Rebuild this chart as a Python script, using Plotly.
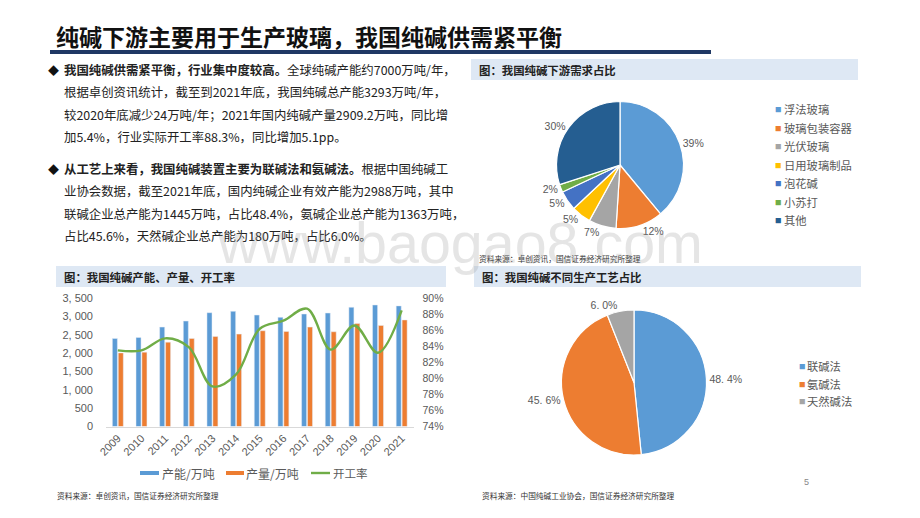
import plotly.graph_objects as go

W, H = 912, 510   # the page body adds an 8 px margin inside the 920x518 window
OFF = 8
years = [str(y) for y in range(2009, 2022)]
capacity = [2404, 2431, 2714, 2879, 3107, 3144, 3043, 2980, 3071, 3098, 3254, 3317, 3293]
output = [2010, 2030, 2303, 2404, 2458, 2522, 2614, 2596, 2714, 2586, 2815, 2760, 2909]
utilization = [83.5, 83.5, 85.0, 83.9, 79.0, 80.5, 86.2, 87.2, 88.7, 83.6, 86.6, 83.2, 88.5]
left_ticks = [0, 500, 1000, 1500, 2000, 2500, 3000, 3500]
left_labels = ["0", "500", "1, 000", "1, 500", "2, 000", "2, 500", "3, 000", "3, 500"]
right_ticks = [74, 76, 78, 80, 82, 84, 86, 88, 90]
right_labels = [f"{v}%" for v in right_ticks]

demand_labels = ["浮法玻璃", "玻璃包装容器", "光伏玻璃", "日用玻璃制品", "泡花碱", "小苏打", "其他"]
demand_values = [39, 12, 7, 5, 5, 2, 30]
demand_colors = ["#5B9BD5", "#ED7D31", "#A5A5A5", "#FFC000", "#4472C4", "#70AD47", "#255E91"]
process_labels = ["联碱法", "氨碱法", "天然碱法"]
process_values = [48.4, 45.6, 6.0]
process_text = ["48. 4%", "45. 6%", "6. 0%"]
process_colors = ["#5B9BD5", "#ED7D31", "#A5A5A5"]

title = "纯碱下游主要用于生产玻璃，我国纯碱供需紧平衡"
para_lines = [
    ("<b>我国纯碱供需紧平衡，行业集中度较高。</b>全球纯碱产能约7000万吨/年，", 70, True),
    ("根据卓创资讯统计，截至到2021年底，我国纯碱总产能3293万吨/年，", 92.5, False),
    ("较2020年底减少24万吨/年；2021年国内纯碱产量2909.2万吨，同比增", 114.5, False),
    ("加5.4%，行业实际开工率88.3%，同比增加5.1pp。", 137, False),
    ("<b>从工艺上来看，我国纯碱装置主要为联碱法和氨碱法。</b>根据中国纯碱工", 169, True),
    ("业协会数据，截至2021年底，国内纯碱企业有效产能为2988万吨，其中", 191, False),
    ("联碱企业总产能为1445万吨，占比48.4%，氨碱企业总产能为1363万吨，", 214, False),
    ("占比45.6%，天然碱企业总产能为180万吨，占比6.0%。", 236, False),
]
panel_titles = [
    ("图：我国纯碱产能、产量、开工率", 56, 446, 266, 287),
    ("图：我国纯碱下游需求占比", 471, 858, 59, 80),
    ("图：我国纯碱不同生产工艺占比", 474, 861, 266, 287),
]
sources = [
    ("资料来源：卓创资讯，国信证券经济研究所整理", 56, 495),
    ("资料来源：卓创资讯，国信证券经济研究所整理", 478, 258),
    ("资料来源：中国纯碱工业协会，国信证券经济研究所整理", 481, 495),
]
bar_legend_labels = ["产能/万吨", "产量/万吨", "开工率"]

CJK = "Noto Sans CJK SC"
GRAY = "#595959"
fx = lambda p: (p - OFF) / W
fy = lambda p: 1 - (p - OFF) / H

fig = go.Figure()
fig.add_bar(x=years, y=capacity, name=bar_legend_labels[0], marker_color="#5B9BD5", xaxis="x", yaxis="y")
fig.add_bar(x=years, y=output, name=bar_legend_labels[1], marker_color="#ED7D31", xaxis="x", yaxis="y")
fig.add_scatter(x=years, y=utilization, name=bar_legend_labels[2], mode="lines", xaxis="x", yaxis="y2",
                line=dict(color="#70AD47", width=2.4, shape="spline", smoothing=1.0))


def pie_domain(cx, cy, r):
    return dict(x=[fx(cx - r), fx(cx + r)], y=[fy(cy + r), fy(cy - r)])


fig.add_pie(labels=demand_labels, values=demand_values, sort=False, direction="clockwise", rotation=0,
            domain=pie_domain(620, 165, 63.5), marker=dict(colors=demand_colors, line=dict(color="white", width=1.2)),
            texttemplate="%{value}%", textposition="outside", automargin=False,
            textfont=dict(family="Liberation Sans", size=10.5, color=GRAY), hoverinfo="label+percent")
fig.add_pie(labels=process_labels, values=process_values, sort=False, direction="clockwise", rotation=0,
            domain=pie_domain(634, 382.5, 72.5), marker=dict(colors=process_colors, line=dict(color="white", width=1.2)),
            text=process_text, textinfo="text", textposition="outside", automargin=False,
            textfont=dict(family="Liberation Sans", size=10.5, color=GRAY), hoverinfo="label+percent")

shapes = [dict(type="rect", xref="paper", yref="paper", x0=fx(50), x1=fx(711), y0=fy(54), y1=fy(50),
               fillcolor="#1F3864", line_width=0, layer="below")]
ann = []


def text(s, x, y, size, color="#222222", family=CJK, xanchor="left"):
    ann.append(dict(text=s, x=fx(x - 1.5 if xanchor == "left" else x), y=fy(y), xref="paper", yref="paper",
                    xanchor=xanchor, yanchor="middle", showarrow=False,
                    font=dict(family=family, size=size, color=color)))


text(f"<b>{title}</b>", 55.5, 36, 23, color="#111111")
for line, y, bullet in para_lines:
    text(line, 63, y, 12.4)
    if bullet:
        text("◆", 47, y, 11, color="#111111")
for s, x0, x1, y0, y1 in panel_titles:
    shapes.append(dict(type="rect", xref="paper", yref="paper", x0=fx(x0), x1=fx(x1), y0=fy(y1), y1=fy(y0),
                       fillcolor="#DEE8F4", line_width=0, layer="below"))
    text(f"<b>{s}</b>", x0 + 7, (y0 + y1) / 2, 11.4)
for s, x, y in sources:
    text(s, x, y, 7.7, color="#333333")
text("5", 803, 482, 9, color="#888888", family="Liberation Sans")
text("www.baogao8.com", 460, 243, 57.4, color="rgba(150,150,150,0.25)", family="Liberation Sans", xanchor="center")

# pie legends
for i, (lab, col) in enumerate(zip(demand_labels, demand_colors)):
    y = 109.5 + i * 18.4
    text("■", 774.5, y, 6.5, color=col)
    text(lab, 783, y, 11.3, color=GRAY)
for i, (lab, col) in enumerate(zip(process_labels, process_colors)):
    y = 366 + i * 17.5
    text("■", 798, y, 6.5, color=col)
    text(lab, 806, y, 11.3, color=GRAY)

# bar chart legend
for x0, x1, lab, col, tx in [(140, 159, bar_legend_labels[0], "#5B9BD5", 161),
                             (226, 244, bar_legend_labels[1], "#ED7D31", 245)]:
    shapes.append(dict(type="rect", xref="paper", yref="paper", x0=fx(x0), x1=fx(x1), y0=fy(475), y1=fy(471),
                       fillcolor=col, line_width=0))
    text(lab, tx, 473, 12, color=GRAY)
shapes.append(dict(type="line", xref="paper", yref="paper", x0=fx(311), x1=fx(330), y0=fy(473), y1=fy(473),
                   line=dict(color="#70AD47", width=2.4)))
text(bar_legend_labels[2], 332, 473, 11.5, color=GRAY)

fig.update_layout(
    width=W, height=H, autosize=False, margin=dict(l=0, r=0, t=0, b=0, autoexpand=False),
    paper_bgcolor="white", plot_bgcolor="white", showlegend=False,
    barmode="group", bargap=0.5, bargroupgap=0.15, shapes=shapes, annotations=ann,
    font=dict(family=CJK, color=GRAY),
    xaxis=dict(domain=[fx(106), fx(413.5)], anchor="y", type="category", tickangle=-45, showgrid=False,
               showline=True, linecolor="#D9D9D9", linewidth=1, ticks="", automargin=False,
               tickfont=dict(family="Liberation Sans", size=11, color=GRAY)),
    yaxis=dict(domain=[fy(426.5), fy(298.3)], range=[0, 3500], tickvals=left_ticks, ticktext=left_labels,
               showgrid=False, zeroline=False, showline=False, ticks="", ticklabelstandoff=12, automargin=False,
               tickfont=dict(family="Liberation Sans", size=11, color=GRAY)),
    yaxis2=dict(domain=[fy(426.5), fy(298.3)], range=[74, 90], overlaying="y", side="right", anchor="x",
                tickvals=right_ticks, ticktext=right_labels, showgrid=False, zeroline=False, showline=False,
                ticks="", ticklabelstandoff=8, automargin=False,
                tickfont=dict(family="Liberation Sans", size=10.5, color=GRAY)),
)
fig.write_html("out.html")
